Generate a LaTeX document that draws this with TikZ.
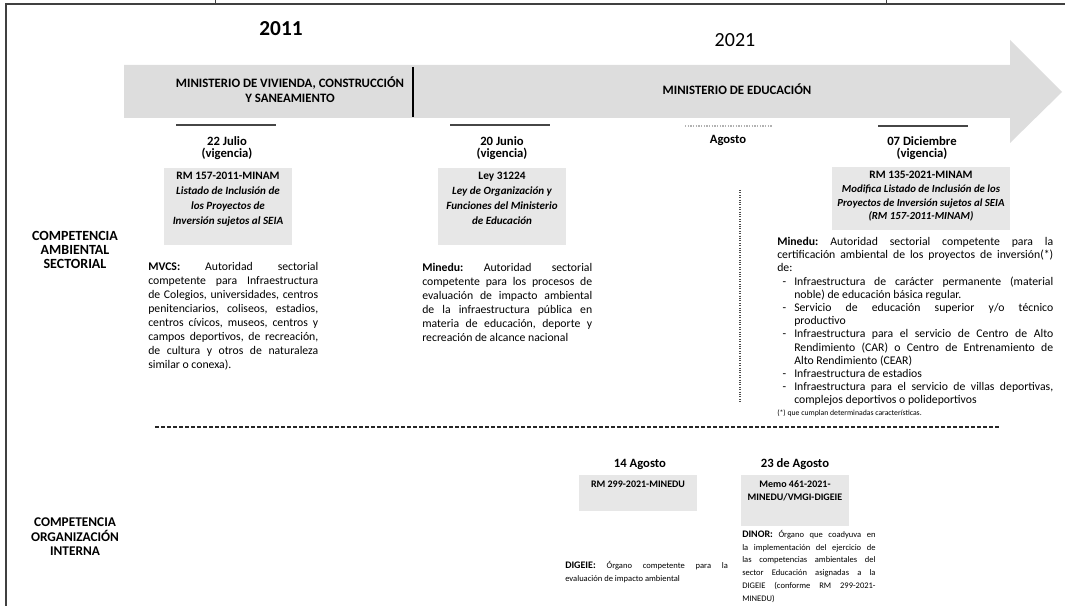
\documentclass[tikz,border=0pt]{standalone}
\usepackage{fontspec}
\setmainfont{Carlito}
\usetikzlibrary{positioning}

\newcommand{\tam}[2]{\fontsize{#1}{#2}\selectfont}
\newcommand{\guion}{\par\hangindent=12.75pt\hangafter=1\noindent\hbox to 12.75pt{\hskip 4pt-\hfil}}
\newcommand{\sinpartir}{\parindent=0pt\leftskip=0pt\rightskip=0pt\parfillskip=0pt plus 1fil\frenchspacing\hyphenpenalty=10000\exhyphenpenalty=10000\tolerance=10000\relax}

\tikzset{
  banda/.style={fill=gray!27},
  regla/.style={line width=1.1pt,gray!55!black},
  fecha/.style={font=\bfseries\tam{9.5}{9.2},align=center,inner sep=0pt},
  caja/.style={fill=gray!19,inner sep=0pt},
  cajatxt/.style={align=center,inner sep=0pt},
  minist/.style={font=\bfseries\tam{9.6}{11.25},align=center,inner sep=0pt},
  lado/.style={font=\bfseries\tam{10.5}{10.5},align=center,inner sep=0pt},
  parr/.style 2 args={font=\tam{#1}{#2},align=none,inner sep=0pt,anchor=north west},
}

\begin{document}
\begin{tikzpicture}[x=0.75pt,y=-0.75pt]
\useasboundingbox (0,0) rectangle (1065,606);
% marco de la tabla
\draw[line width=0.8pt,gray!50!black] (5,4) -- (1065,4);
\draw[line width=0.8pt,gray!50!black] (6,4) -- (6,606);
\draw[gray!50!black] (215,0) -- (215,4);
\draw[gray!50!black] (886,0) -- (886,4);

% flecha de tiempo
\fill[banda] (124,65) -- (1010,65) -- (1010,40) -- (1062,92) -- (1010,143) -- (1010,118) -- (124,118) -- cycle;
\draw[line width=1.5pt] (413,67) -- (413,117);

\node[font=\bfseries\tam{16}{16}] (y2011) at (281,29) {2011};
\node[font=\tam{15}{15}] (y2021) at (735,40) {2021};

\node[minist] (mvcs) at (290,90) {MINISTERIO DE VIVIENDA, CONSTRUCCIÓN\\Y SANEAMIENTO};
\node[minist] (minedu) at (737,89) {MINISTERIO DE EDUCACIÓN};

% fechas
\draw[regla] (176,125) -- (276,125);
\draw[regla] (450,125) -- (550,125);
\draw[line width=1pt,gray!60,densely dotted] (685,126) -- (772,126);
\draw[regla] (878,126) -- (968,126);

\node[fecha] (jul) at (227,148) {22 Julio\\(vigencia)};
\node[fecha] (jun) at (502,148) {20 Junio\\(vigencia)};
\node[fecha] (ago) at (728,140) {Agosto};
\node[fecha] (dic) at (922,148) {07 Diciembre\\(vigencia)};

% normas
\node[caja,minimum width=96pt,minimum height=57.75pt,anchor=north] (rm157) at (228,168) {};
\node[cajatxt,font=\bfseries\itshape\tam{8.3}{11.25},below=3pt of rm157.north] (rm157t)
  {{\upshape\tam{8.5}{11.25}RM 157-2011-MINAM}\\Listado de Inclusión de\\los Proyectos de\\Inversión sujetos al SEIA};
\node[caja,minimum width=96pt,minimum height=57.75pt,anchor=north] (ley) at (502,168) {};
\node[cajatxt,font=\bfseries\itshape\tam{8.3}{11.25},below=3pt of ley.north] (leyt)
  {{\upshape\tam{8.5}{11.25}Ley 31224}\\Ley de Organización y\\Funciones del Ministerio\\de Educación};
\node[caja,minimum width=133.5pt,minimum height=47.25pt,anchor=north] (rm135) at (921,167) {};
\node[cajatxt,font=\bfseries\itshape\tam{8.1}{10.3},below=3pt of rm135.north] (rm135t)
  {{\upshape\tam{8.5}{10.3}RM 135-2021-MINAM}\\Modifica Listado de Inclusión de los\\Proyectos de Inversión sujetos al SEIA\\(RM 157-2011-MINAM)};

\coordinate (ag1) at (740,190);
\coordinate (ag2) at (740,402);
\draw[gray!60!black,densely dotted,line width=0.8pt] (ag1) -- (ag2);

% competencia ambiental sectorial
\node[lado] (amb) at (75,250) {COMPETENCIA\\AMBIENTAL\\SECTORIAL};

\node[parr={8.8}{10.5},text width=127.5pt] (pmvcs) at (148,262)
  {\sinpartir\textbf{MVCS:} Autoridad sectorial\linebreak competente para Infraestructura\linebreak de Colegios, universidades, centros\linebreak penitenciarios, coliseos, estadios,\linebreak centros cívicos, museos, centros y\linebreak campos deportivos, de recreación,\linebreak de cultura y otros de naturaleza\linebreak similar o conexa).};
\node[parr={8.8}{10.5},text width=127.5pt] (pley) at (422,263)
  {\sinpartir\textbf{Minedu:} Autoridad sectorial\linebreak competente para los procesos de\linebreak evaluación de impacto ambiental\linebreak de la infraestructura pública en\linebreak materia de educación, deporte y\linebreak recreación de alcance nacional};
\node[parr={8.8}{9.9},text width=207pt] (prm135) at (777,237)
  {\sinpartir\textbf{Minedu:} Autoridad sectorial competente para la\linebreak certificación ambiental de los proyectos de inversión(*)\linebreak de:
  \guion Infraestructura de carácter permanente (material\linebreak noble) de educación básica regular.
  \guion Servicio de educación superior y/o técnico\linebreak productivo
  \guion Infraestructura para el servicio de Centro de Alto\linebreak Rendimiento (CAR) o Centro de Entrenamiento de\linebreak Alto Rendimiento (CEAR)
  \guion Infraestructura de estadios
  \guion Infraestructura para el servicio de villas deportivas,\linebreak complejos deportivos o polideportivos
  \par{\tam{5.8}{8.5}\noindent(*) que cumplan determinadas características.\par}};

% separador
\coordinate (sep1) at (155,427);
\coordinate (sep2) at (1000,427);
\draw[gray!30!black,line width=0.9pt,dash pattern=on 3pt off 1.5pt] (sep1) -- (sep2);

% competencia organizacion interna
\node[lado,font=\bfseries\tam{10}{10.8}] (org) at (75,537) {COMPETENCIA\\ORGANIZACIÓN\\INTERNA};

\node[fecha] (ago14) at (640,464) {14 Agosto};
\node[caja,minimum width=88pt,minimum height=27pt,anchor=north] (rm299) at (638,475) {};
\node[cajatxt,font=\bfseries\tam{7.5}{8.25},below=4pt of rm299.north] (rm299t) {RM 299-2021-MINEDU};
\node[fecha] (ago23) at (795,464) {23 de Agosto};
\node[caja,minimum width=81pt,minimum height=38pt,anchor=north] (memo) at (795,475) {};
\node[cajatxt,font=\bfseries\tam{7.5}{9.8},below=4pt of memo.north] (memot) {Memo 461-2021-\\MINEDU/VMGI-DIGEIE};

\node[parr={6.4}{9.6},text width=122pt] (pdigeie) at (565,561)
  {\sinpartir{\bfseries\tam{7.5}{9.6}DIGEIE:} Órgano competente para la\linebreak evaluación de impacto ambiental};
\node[parr={6.4}{9.6},text width=100pt] (pdinor) at (742,530)
  {\sinpartir{\bfseries\tam{7.5}{9.6}DINOR:} Órgano que coadyuva en\linebreak la implementación del ejercicio de\linebreak las competencias ambientales del\linebreak sector Educación asignadas a la\linebreak DIGEIE (conforme RM 299-2021-\linebreak MINEDU)};
\end{tikzpicture}
\end{document}
